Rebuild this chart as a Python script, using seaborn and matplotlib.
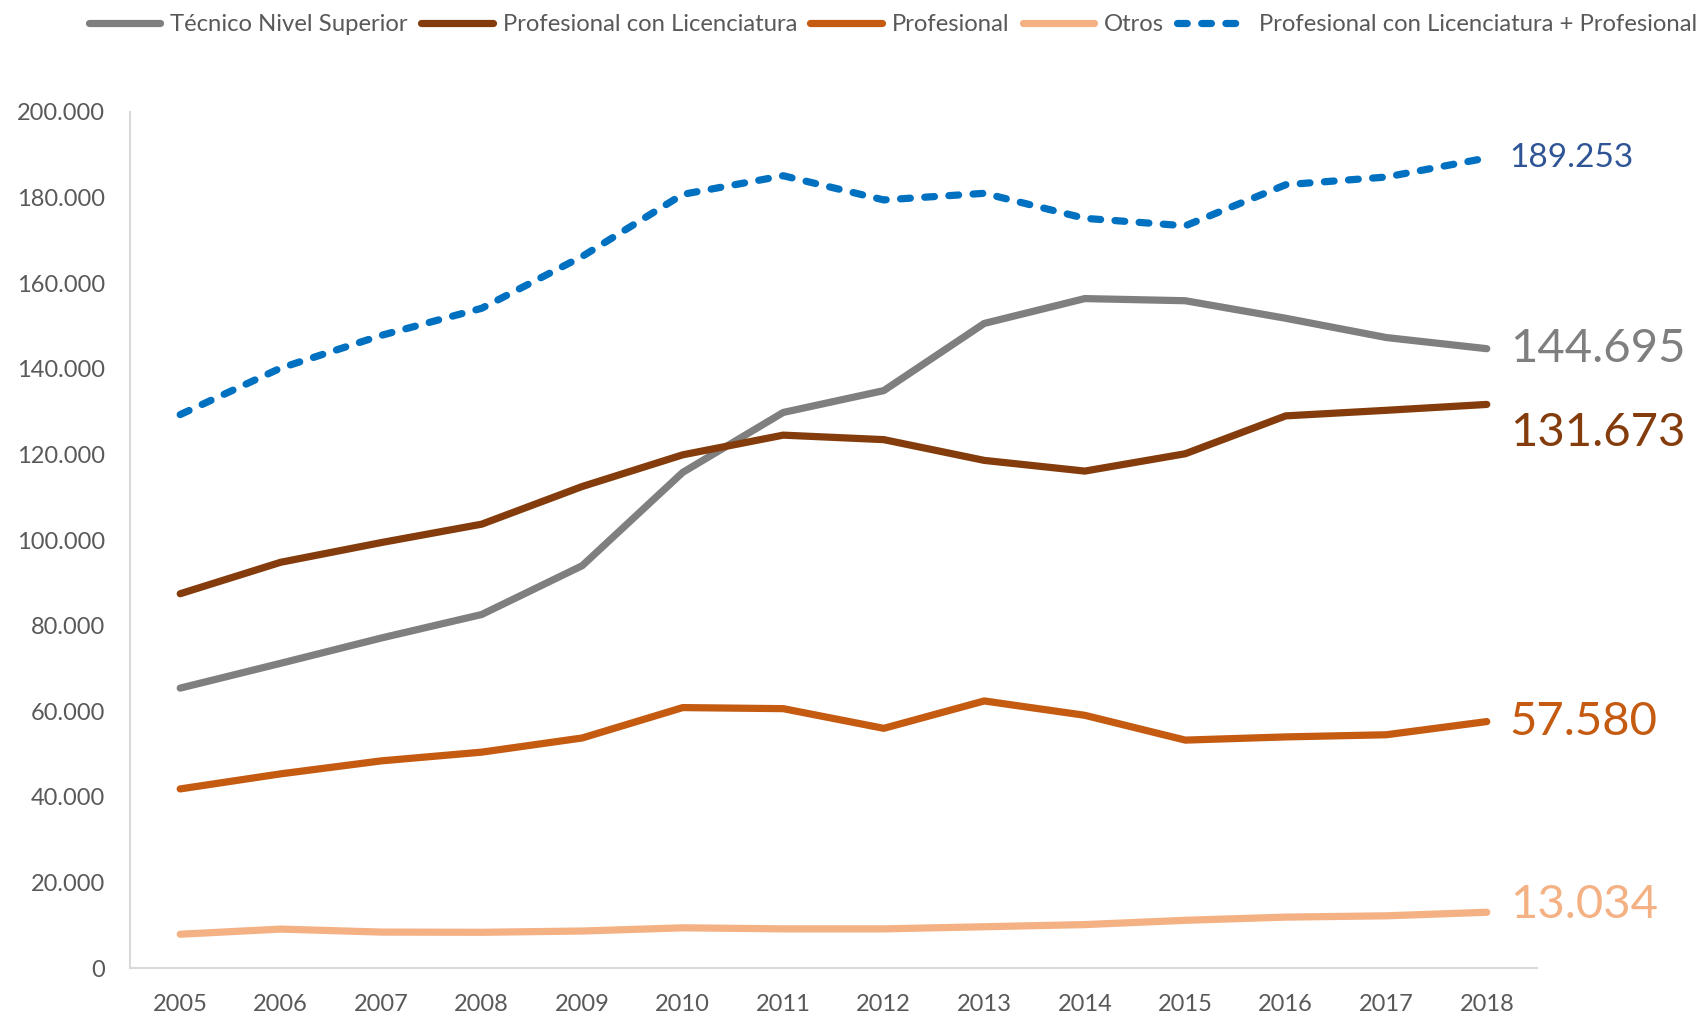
import pandas as pd
import matplotlib
matplotlib.use("Agg")
import matplotlib.pyplot as plt
import seaborn as sns
from matplotlib.ticker import FuncFormatter

years = list(range(2005, 2019))

tecnico = [65400, 71200, 77100, 82600, 94000, 115800, 129800, 134900, 150600, 156400, 155900, 151800, 147300, 144695]
licenciatura = [87450, 94800, 99400, 103700, 112500, 119900, 124500, 123450, 118600, 116100, 120150, 129000, 130300, 131673]
profesional = [41850, 45370, 48400, 50440, 53750, 60850, 60600, 56000, 62400, 59050, 53250, 54000, 54500, 57580]
otros = [7900, 9100, 8400, 8350, 8650, 9400, 9150, 9150, 9650, 10150, 11150, 11900, 12200, 13034]
lic_mas_prof = [129300, 140170, 147800, 154140, 166250, 180750, 185100, 179450, 181000, 175150, 173400, 183000, 184800, 189253]

series_names = ["Técnico Nivel Superior", "Profesional con Licenciatura", "Profesional",
                "Otros", "Profesional con Licenciatura + Profesional"]
series_values = [tecnico, licenciatura, profesional, otros, lic_mas_prof]
colors = ["#7F7F7F", "#843C0C", "#C55A11", "#F4B183", "#0070C0"]
label_colors = ["#7F7F7F", "#843C0C", "#C55A11", "#F4B183", "#2F5597"]
label_text = ["144.695", "131.673", "57.580", "13.034", "189.253"]
label_sizes = [34, 34, 34, 34, 24]
label_shift = [0, -29, 0, 7, 0]  # pixels, to keep the end labels apart

sns.set_theme(style="white")
plt.rcParams['font.family'] = ['Lato', 'DejaVu Sans']
plt.rcParams['lines.solid_capstyle'] = 'round'
plt.rcParams['lines.dash_capstyle'] = 'round'

fig = plt.figure(figsize=(17.01, 10.16), dpi=100)
ax = fig.add_axes([0.0764, 0.0472, 0.8272, 0.8426])

for name, vals, col in zip(series_names, series_values, colors):
    df = pd.DataFrame({"year": years, "value": vals})
    sns.lineplot(data=df, x="year", y="value", color=col, linewidth=5.2, label=name, ax=ax)

ax.lines[-1].set_dashes((1.35, 2.0))

#end labels
for vals, txt, col, fs, dy in zip(series_values, label_text, label_colors, label_sizes, label_shift):
    ax.annotate(txt, xy=(years[-1], vals[-1]), xytext=(23, dy), textcoords="offset pixels",
                color=col, fontsize=fs, va="center", ha="left", annotation_clip=False)

ax.set_xlim(2004.5, 2018.5)
ax.set_ylim(0, 200000)
ax.set_xticks(years)
ax.set_yticks(range(0, 200001, 20000))
ax.yaxis.set_major_formatter(FuncFormatter(lambda v, p: f"{int(v):,}".replace(",", ".")))
ax.set_xlabel("")
ax.set_ylabel("")
ax.tick_params(axis="both", length=0, labelsize=17, labelcolor="#595959")
ax.tick_params(axis="x", pad=19)
ax.tick_params(axis="y", pad=18)
for s in ["top", "right"]:
    ax.spines[s].set_visible(False)
for s in ["left", "bottom"]:
    ax.spines[s].set_color("#D9D9D9")
    ax.spines[s].set_linewidth(1.5)
ax.grid(False)

handles, labels = ax.get_legend_handles_labels()
ax.get_legend().remove()
fig.legend(handles, labels, loc="center", bbox_to_anchor=(0.525, 0.976), ncol=5, frameon=False,
           fontsize=17.2, handlelength=3.0, handletextpad=0.42, columnspacing=0.55,
           labelcolor="#595959")

fig.savefig("out.png", dpi=100)
